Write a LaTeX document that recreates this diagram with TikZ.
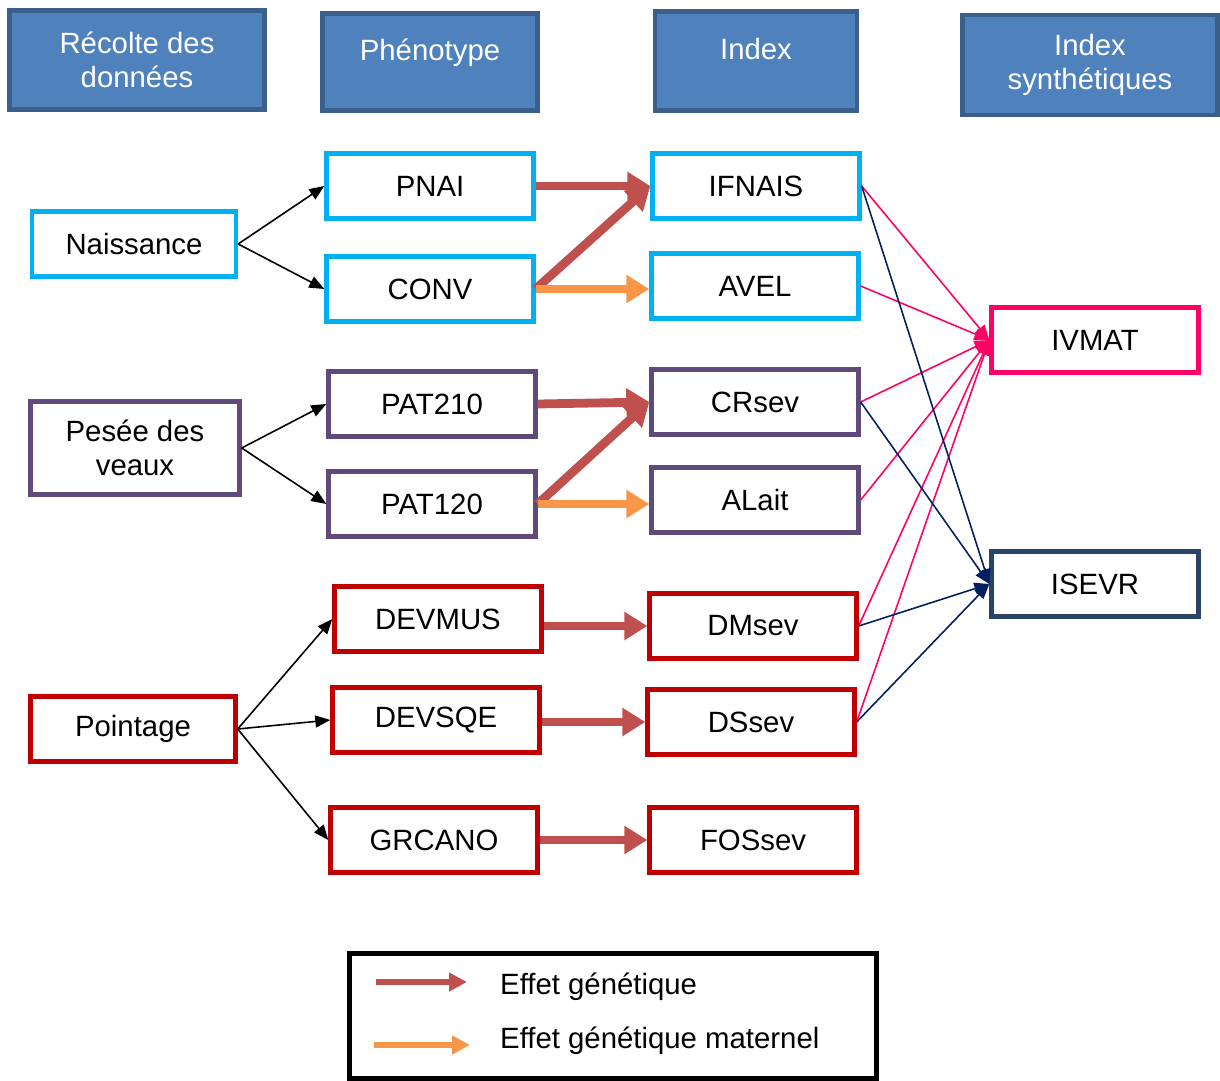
\documentclass[tikz,border=0pt]{standalone}
\usepackage{fontspec}
\setmainfont{Liberation Sans}
\usetikzlibrary{arrows.meta}
\definecolor{hdrfill}{HTML}{4F81BD}
\definecolor{hdrline}{HTML}{3A5F8B}
\definecolor{cyanbox}{HTML}{00B0F0}
\definecolor{purplebox}{HTML}{604A7B}
\definecolor{redbox}{HTML}{C00000}
\definecolor{pinkbox}{HTML}{FF0066}
\definecolor{navybox}{HTML}{2A4467}
\definecolor{navyline}{HTML}{002060}
\definecolor{genred}{HTML}{C0504D}
\definecolor{matorange}{HTML}{F79646}

\begin{document}
\begin{tikzpicture}[x=0.02cm, y=-0.02cm,
  every node/.style={font=\fontsize{16.7}{19.4}\selectfont},
  box/.style={draw=#1, line width=2.5pt, fill=white, minimum width=4.14cm, minimum height=1.3cm, align=center},
  hdr/.style={draw=hdrline, line width=2.5pt, fill=hdrfill, text=white, align=center, minimum height=1.98cm},
  hdrone/.style={hdr, text height=0.45cm, text depth=0.51cm},
  gen/.style={draw=genred, line width=5pt, -{Triangle[length=0.46cm, width=0.54cm]}},
  mat/.style={draw=matorange, line width=5pt, -{Triangle[length=0.46cm, width=0.54cm]}},
  link/.style={line width=0.9pt, -{Triangle[length=0.3cm, width=0.24cm]}}]

\useasboundingbox (0,0) rectangle (1220,1081);

\node [hdr, minimum width=5.1cm] (recolte) at (137,60) {Récolte des\\données};
\node [hdrone, minimum width=4.3cm, minimum height=1.94cm] (phenotype) at (430,62) {Phénotype};
\node [hdrone, minimum width=4.04cm] (index) at (756,61) {Index};
\node [hdr, minimum width=5.1cm, minimum height=2cm] (synth) at (1090,65) {Index\\synthétiques};

\node [box=cyanbox, minimum width=4.08cm] (naissance) at (134,244) {Naissance};
\node [box=purplebox, minimum width=4.18cm, minimum height=1.86cm] (pesee) at (135,448) {Pesée des\\veaux};
\node [box=redbox, minimum width=4.1cm] (pointage) at (133,729) {Pointage};

\node [box=cyanbox] (PNAI) at (430,186) {PNAI};
\node [box=cyanbox] (CONV) at (430,289) {CONV};
\node [box=purplebox] (PAT210) at (432,404) {PAT210};
\node [box=purplebox] (PAT120) at (432,504) {PAT120};
\node [box=redbox] (DEVMUS) at (438,619) {DEVMUS};
\node [box=redbox] (DEVSQE) at (436,720) {DEVSQE};
\node [box=redbox] (GRCANO) at (434,840) {GRCANO};

\node [box=cyanbox] (IFNAIS) at (756,186) {IFNAIS};
\node [box=cyanbox] (AVEL) at (755,286) {AVEL};
\node [box=purplebox] (CRsev) at (755,402) {CRsev};
\node [box=purplebox] (ALait) at (755,500) {ALait};
\node [box=redbox] (DMsev) at (753,626) {DMsev};
\node [box=redbox] (DSsev) at (751,722) {DSsev};
\node [box=redbox] (FOSsev) at (753,840) {FOSsev};

\node [box=pinkbox] (IVMAT) at (1095,340) {IVMAT};
\node [box=navybox] (ISEVR) at (1095,584) {ISEVR};

\draw [link] (naissance.east) -- (PNAI.west);
\draw [link] (naissance.east) -- (CONV.west);
\draw [link] (pesee.east) -- (PAT210.west);
\draw [link] (pesee.east) -- (PAT120.west);
\draw [link] (pointage.east) -- (DEVMUS.west);
\draw [link] (pointage.east) -- (DEVSQE.west);
\draw [link] (pointage.east) -- (GRCANO.west);

\draw [gen] (PNAI.east) -- (IFNAIS.west);
\draw [gen] (CONV.east) -- (IFNAIS.west);
\draw [mat] (CONV.east) -- (CONV.east -| AVEL.west);
\draw [gen] (PAT210.east) -- (CRsev.west);
\draw [gen] (PAT120.east) -- (CRsev.west);
\draw [mat] (PAT120.east) -- (PAT120.east -| ALait.west);
\draw [gen] (DEVMUS.east |- DMsev.west) -- (DMsev.west);
\draw [gen] (DEVSQE.east |- DSsev.west) -- (DSsev.west);
\draw [gen] (GRCANO.east) -- (FOSsev.west);

\draw [link, pinkbox] (IFNAIS.east) -- (IVMAT.west);
\draw [link, pinkbox] (AVEL.east) -- (IVMAT.west);
\draw [link, pinkbox] (CRsev.east) -- (IVMAT.west);
\draw [link, pinkbox] (ALait.east) -- (IVMAT.west);
\draw [link, pinkbox] (DMsev.east) -- (IVMAT.west);
\draw [link, pinkbox] (DSsev.east) -- (IVMAT.west);

\draw [link, navyline] (IFNAIS.east) -- (ISEVR.west);
\draw [link, navyline] (CRsev.east) -- (ISEVR.west);
\draw [link, navyline] (DMsev.east) -- (ISEVR.west);
\draw [link, navyline] (DSsev.east) -- (ISEVR.west);

\node [draw, line width=2.5pt, minimum width=10.54cm, minimum height=2.5cm] (legend) at (613,1016) {};
\coordinate (gena) at (376,982);
\coordinate (genb) at (467,982);
\coordinate (mata) at (374,1045);
\coordinate (matb) at (470,1045);
\draw [gen, line width=3.5pt, -{Triangle[length=0.36cm, width=0.36cm]}] (gena) -- (genb);
\draw [mat, line width=3.5pt, -{Triangle[length=0.36cm, width=0.36cm]}] (mata) -- (matb);
\node [anchor=west] (gentxt) at (494,987) {Effet génétique};
\node [anchor=west] (mattxt) at (494,1041) {Effet génétique maternel};

\end{tikzpicture}
\end{document}
